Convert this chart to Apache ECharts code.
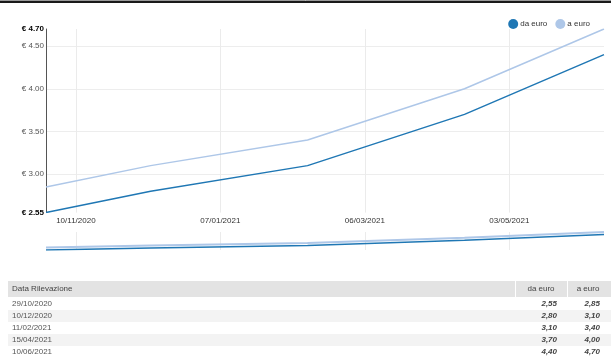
<!DOCTYPE html>
<html>
<head>
<meta charset="utf-8">
<script src="https://cdn.jsdelivr.net/npm/echarts@6/dist/echarts.min.js"></script>
<style>
  html, body { margin: 0; padding: 0; background: #fff; }
  #chart { width: 611px; height: 359px; }
</style>
</head>
<body>
<div id="chart"></div>
<script>
// Price survey data (dates as dd/mm/yyyy)
const dates = ['29/10/2020', '10/12/2020', '11/02/2021', '15/04/2021', '10/06/2021'];
const daEuro = [2.55, 2.80, 3.10, 3.70, 4.40];
const aEuro = [2.85, 3.10, 3.40, 4.00, 4.70];
const seriesNames = ['da euro', 'a euro'];
const xTickLabels = ['10/11/2020', '07/01/2021', '06/03/2021', '03/05/2021'];
const yTicks = [2.55, 3.00, 3.50, 4.00, 4.50, 4.70];
const yGridTicks = [3.00, 3.50, 4.00, 4.50];
const tableHeader = ['Data Rilevazione', 'da euro', 'a euro'];

const FONT = '"Liberation Sans", Arial, sans-serif';
const COL_DA = '#1f77b4';
const COL_A = '#aec7e8';
const DAY = 86400000;

function parseDate(s) {
  const p = s.split('/').map(Number);
  return Date.UTC(p[2], p[1] - 1, p[0]);
}
function fmtDate(t) {
  const d = new Date(Math.round(t / DAY) * DAY);
  const pad = n => (n < 10 ? '0' : '') + n;
  return pad(d.getUTCDate()) + '/' + pad(d.getUTCMonth() + 1) + '/' + d.getUTCFullYear();
}
const times = dates.map(parseDate);
const xTicks = xTickLabels.map(parseDate);
const xMin = times[0], xMax = times[times.length - 1];
const yMin = yTicks[0], yMax = yTicks[yTicks.length - 1];

const daData = times.map((t, i) => [t, daEuro[i]]);
const aData = times.map((t, i) => [t, aEuro[i]]);

// Table drawn with graphic elements, built from the data arrays
const tbl = [];
const tLeft = 8, tRight = 611, headTop = 281, headH = 16, rowH = 12;
const colDaL = 516, colAL = 568;
tbl.push({ type: 'rect', shape: { x: tLeft, y: headTop, width: tRight - tLeft, height: headH }, style: { fill: '#e3e3e3' } });
tbl.push({ type: 'line', shape: { x1: colDaL - 0.5, y1: headTop, x2: colDaL - 0.5, y2: headTop + headH }, style: { stroke: '#fff', lineWidth: 1 } });
tbl.push({ type: 'line', shape: { x1: colAL - 0.5, y1: headTop, x2: colAL - 0.5, y2: headTop + headH }, style: { stroke: '#fff', lineWidth: 1 } });
const headStyle = { fill: '#444', font: '8px ' + FONT, textVerticalAlign: 'middle' };
tbl.push({ type: 'text', style: Object.assign({ text: tableHeader[0], x: 12, y: headTop + headH / 2, textAlign: 'left' }, headStyle) });
tbl.push({ type: 'text', style: Object.assign({ text: tableHeader[1], x: 541, y: headTop + headH / 2, textAlign: 'center' }, headStyle) });
tbl.push({ type: 'text', style: Object.assign({ text: tableHeader[2], x: 588, y: headTop + headH / 2, textAlign: 'center' }, headStyle) });
dates.forEach((d, i) => {
  const y = headTop + headH + 1 + i * rowH;
  if (i % 2 === 1) {
    tbl.push({ type: 'rect', shape: { x: tLeft, y: y, width: tRight - tLeft, height: rowH }, style: { fill: '#f3f3f3' } });
  }
  const cy = y + rowH / 2;
  tbl.push({ type: 'text', style: { text: d, x: 12, y: cy, textAlign: 'left', textVerticalAlign: 'middle', fill: '#555', font: '8px ' + FONT } });
  tbl.push({ type: 'text', style: { text: daEuro[i].toFixed(2).replace('.', ','), x: 557, y: cy, textAlign: 'right', textVerticalAlign: 'middle', fill: '#444', font: 'italic bold 8px ' + FONT } });
  tbl.push({ type: 'text', style: { text: aEuro[i].toFixed(2).replace('.', ','), x: 600, y: cy, textAlign: 'right', textVerticalAlign: 'middle', fill: '#444', font: 'italic bold 8px ' + FONT } });
});

const chart = echarts.init(document.getElementById('chart'), null, { renderer: 'canvas' });
chart.setOption({
  animation: false,
  backgroundColor: '#fff',
  textStyle: { fontFamily: FONT },
  legend: {
    data: seriesNames,
    icon: 'circle',
    itemWidth: 10,
    itemHeight: 10,
    itemGap: 8,
    right: 16,
    top: 14,
    textStyle: { fontSize: 8, color: '#333', fontFamily: FONT, padding: [0, 0, 0, -3] }
  },
  grid: [
    { left: 46, right: 7, top: 29, height: 183.6 },
    { left: 46, right: 7, top: 232, height: 18 }
  ],
  xAxis: [
    {
      type: 'value', gridIndex: 0, min: xMin, max: xMax,
      axisLine: { show: false },
      axisTick: { show: false, customValues: xTicks },
      axisLabel: {
        customValues: xTicks, margin: 4, fontSize: 8, color: '#333', fontFamily: FONT,
        formatter: v => fmtDate(v)
      },
      splitLine: { show: true, customValues: xTicks, lineStyle: { color: '#ebebeb', width: 1 } }
    },
    {
      type: 'value', gridIndex: 1, min: xMin, max: xMax,
      axisLine: { show: false },
      axisTick: { show: false, customValues: xTicks },
      axisLabel: { show: false, customValues: xTicks },
      splitLine: { show: true, customValues: xTicks, lineStyle: { color: '#ebebeb', width: 1 } }
    }
  ],
  yAxis: [
    {
      type: 'value', gridIndex: 0, min: yMin, max: yMax,
      axisLine: { show: true, lineStyle: { color: '#555', width: 1 } },
      axisTick: { show: false, customValues: yGridTicks },
      axisLabel: {
        customValues: yTicks, margin: 2, fontSize: 8, color: '#555', fontFamily: FONT,
        formatter: v => {
          const s = '€ ' + v.toFixed(2);
          return (Math.abs(v - yMin) < 1e-9 || Math.abs(v - yMax) < 1e-9) ? '{b|' + s + '}' : s;
        },
        rich: { b: { fontWeight: 'bold', color: '#000', fontSize: 8, fontFamily: FONT } }
      },
      splitLine: { show: true, customValues: yGridTicks, lineStyle: { color: '#ededed', width: 1 } }
    },
    {
      type: 'value', gridIndex: 1, min: yMin, max: yMax,
      axisLine: { show: false }, axisTick: { show: false },
      axisLabel: { show: false }, splitLine: { show: false }
    }
  ],
  series: [
    {
      name: seriesNames[0], type: 'line', xAxisIndex: 0, yAxisIndex: 0,
      data: daData, symbol: 'none', color: COL_DA,
      lineStyle: { color: COL_DA, width: 1.5 }, z: 3
    },
    {
      name: seriesNames[1], type: 'line', xAxisIndex: 0, yAxisIndex: 0,
      data: aData, symbol: 'none', color: COL_A,
      lineStyle: { color: COL_A, width: 1.5 }, z: 2
    },
    {
      name: seriesNames[0], type: 'line', xAxisIndex: 1, yAxisIndex: 1,
      data: daData, symbol: 'none', color: COL_DA,
      lineStyle: { color: COL_DA, width: 1.5 }, z: 3, legendHoverLink: false
    },
    {
      name: seriesNames[1], type: 'line', xAxisIndex: 1, yAxisIndex: 1,
      data: aData, symbol: 'none', color: COL_A,
      lineStyle: { color: COL_A, width: 2 }, z: 2, legendHoverLink: false
    }
  ],
  graphic: [
    { type: 'line', shape: { x1: 0, y1: 0.5, x2: 611, y2: 0.5 }, style: { stroke: '#9a9a9a', lineWidth: 1 } },
    { type: 'rect', shape: { x: 0, y: 1, width: 611, height: 2 }, style: { fill: '#1a1a1a' } }
  ].concat(tbl)
});
</script>
</body>
</html>
